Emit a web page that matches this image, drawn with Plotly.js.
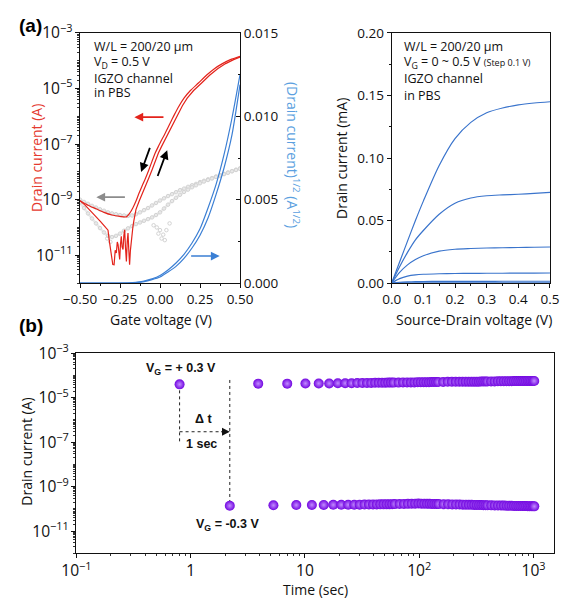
<!DOCTYPE html>
<html><head><meta charset="utf-8">
<script src="https://cdn.plot.ly/plotly-3.0.1.min.js"></script>
<style>html,body{margin:0;padding:0;background:#fff}#c{width:567px;height:611px}</style>
</head><body><div id="c"></div>
<script>
// ---------- (a) left: transfer curve ----------
const vgRev = [-0.50,-0.45,-0.40,-0.35,-0.30,-0.25,-0.21,-0.19,-0.17,-0.15,-0.13,-0.11,-0.09,-0.07,-0.05,-0.03,-0.01,0.01,0.03,0.05,0.07,0.09,0.12,0.15,0.19,0.24,0.29,0.34,0.39,0.44,0.50];
const idRev = [9.1e-10,6.3e-10,4.7e-10,3.5e-10,2.8e-10,2.5e-10,2.4e-10,3.2e-10,5.0e-10,8.9e-10,1.78e-9,3.3e-9,6.0e-9,1.17e-8,2.4e-8,4.8e-8,8.3e-8,1.41e-7,2.3e-7,4.0e-7,6.8e-7,1.15e-6,2.4e-6,4.5e-6,8.5e-6,1.58e-5,3.0e-5,5.2e-5,7.9e-5,1.1e-4,1.45e-4];
const vgFwd = [-0.50,-0.47,-0.43,-0.40,-0.37,-0.34,-0.325,-0.315,-0.305,-0.295,-0.287,-0.28,-0.273,-0.267,-0.262,-0.257,-0.252,-0.247,-0.242,-0.237,-0.231,-0.226,-0.221,-0.216,-0.21,-0.205,-0.2,-0.195,-0.19,-0.185,-0.179,-0.174,-0.169,-0.163,-0.158,-0.15,-0.13,-0.11,-0.09,-0.07,-0.05,-0.03,-0.01,0.01,0.03,0.05,0.07,0.09,0.11,0.14,0.17,0.21,0.26,0.31,0.36,0.41,0.46,0.50];
const idFwd = [9.1e-10,6.5e-10,3.7e-10,2.5e-10,1.6e-10,1.0e-10,8e-11,2.8e-11,9e-12,4.6e-12,4.5e-12,1.5e-11,1.2e-11,3e-11,2.4e-11,1.2e-11,7e-12,2.5e-11,4.8e-11,2e-11,1.6e-11,5e-11,8.3e-11,2e-11,6e-12,3e-11,6.3e-11,1.5e-11,4.6e-12,1.5e-11,3.6e-11,6e-11,1.1e-10,1.8e-10,2.5e-10,4.5e-10,8.9e-10,1.78e-9,3.3e-9,6.0e-9,1.17e-8,2.4e-8,4.8e-8,8.3e-8,1.41e-7,2.3e-7,4.0e-7,6.8e-7,1.15e-6,2.4e-6,4.5e-6,8.5e-6,1.58e-5,3.0e-5,5.2e-5,7.9e-5,1.1e-4,1.35e-4];
const vgLeak = [-0.500,-0.475,-0.450,-0.425,-0.400,-0.375,-0.350,-0.325,-0.300,-0.275,-0.250,-0.225,-0.200,-0.175,-0.150,-0.125,-0.100,-0.075,-0.050,-0.025,0.000,0.025,0.050,0.075,0.100,0.125,0.150,0.175,0.200,0.225,0.250,0.275,0.300,0.325,0.350,0.375,0.400,0.425,0.450,0.475,0.500];
const igLeakA = [1.0e-9,8.3e-10,7.1e-10,6.0e-10,5.2e-10,4.5e-10,4.0e-10,3.5e-10,3.2e-10,3.0e-10,2.8e-10,2.7e-10,2.6e-10,2.7e-10,3.0e-10,3.5e-10,4.2e-10,5.0e-10,6.2e-10,7.6e-10,9.3e-10,1.12e-9,1.35e-9,1.58e-9,1.86e-9,2.2e-9,2.5e-9,2.9e-9,3.3e-9,3.7e-9,4.3e-9,4.8e-9,5.4e-9,6.0e-9,6.8e-9,7.6e-9,8.5e-9,9.5e-9,1.07e-8,1.2e-8,1.35e-8];
const igLeakB = [7.9e-10,5.0e-10,3.2e-10,2.1e-10,1.4e-10,9.5e-11,6.6e-11,5.0e-11,4.5e-11,5.0e-11,6.0e-11,7.6e-11,9.3e-11,1.12e-10,1.32e-10,1.51e-10,1.74e-10,2.0e-10,2.3e-10,2.8e-10,3.5e-10,4.8e-10,6.6e-10,8.9e-10,1.17e-9,1.5e-9,1.9e-9,2.3e-9,2.8e-9,3.3e-9,3.9e-9,4.5e-9,5.1e-9,5.8e-9,6.6e-9,7.4e-9,8.3e-9,9.3e-9,1.05e-8,1.17e-8,1.29e-8];
const vgScat = [-0.33,-0.31,-0.04,-0.02,-0.01,0.00,0.01,0.02,0.03,0.04,0.06];
const igScat = [4e-11,3e-11,1.2e-10,1.0e-10,6e-11,8e-11,4e-11,5.5e-11,3.5e-11,8e-11,1.4e-10];
const vgSqrt = [-0.50,-0.30,-0.20,-0.15,-0.10,-0.05,0.00,0.05,0.10,0.15,0.20,0.25,0.30,0.35,0.40,0.45,0.50];
const sqrtRev = [0,0,0.00001,0.00004,0.00012,0.00025,0.00045,0.00078,0.0012,0.00172,0.0024,0.00325,0.0045,0.0059,0.0077,0.0099,0.0125];
const sqrtFwd = [0,0,0,0.00002,0.00008,0.0002,0.00036,0.00066,0.001,0.00148,0.0021,0.00287,0.0039,0.0053,0.0069,0.0089,0.0119];

// ---------- (a) right: output curves ----------
const vsd = [0,0.025,0.05,0.075,0.1,0.15,0.2,0.25,0.3,0.35,0.4,0.45,0.5];
const vgSteps = ['0.5 V','0.4 V','0.3 V','0.2 V','0.1 V','0.0 V'];
const idOut = [
  [0,0.0168,0.0335,0.050,0.0655,0.0940,0.1155,0.1285,0.1362,0.1400,0.1425,0.1440,0.1450],
  [0,0.0130,0.0245,0.0345,0.0420,0.0550,0.0638,0.0680,0.0698,0.0705,0.0710,0.0717,0.0725],
  [0,0.0085,0.0145,0.0188,0.0218,0.0255,0.0270,0.0276,0.0280,0.0282,0.0284,0.0286,0.0288],
  [0,0.0035,0.0055,0.0065,0.0070,0.0074,0.0076,0.0077,0.0078,0.0078,0.0079,0.0079,0.0080],
  [0,0.0006,0.0009,0.0011,0.0012,0.0013,0.0013,0.0013,0.0013,0.0014,0.0014,0.0014,0.0014],
  [0,0.0001,0.00015,0.0002,0.0002,0.0002,0.0002,0.0002,0.0002,0.0002,0.0002,0.0002,0.0002]
];

// ---------- (b) switching ----------
const tOn = [0.8,3.9,7.0,10.1,13.2,16.3,19.4,22.5,25.6,28.7,31.8,34.9,38.0,41.1,44.2,47.3,50.4,53.5,56.6,59.7,
  65.9,72.1,78.3,84.5,90.7,96.9,103.1,109.3,115.5,121.7,127.9,134.1,140.3,146.5,
  162.0,177.5,193.0,208.5,224.0,239.5,255.0,270.5,286.0,301.5,317.0,332.5,348.0,363.5,379.0,394.5,
  425.5,456.5,487.5,518.5,549.5,580.5,611.5,642.5,673.5,704.5,735.5,766.5,797.5,828.5,859.5,890.5,921.5,952.5,983.5,1014.5];
const iOn = [4.0e-5,4.3e-5,4.3e-5,4.4e-5,4.4e-5,4.4e-5,4.5e-5,4.5e-5,4.5e-5,4.6e-5,4.6e-5,4.6e-5,4.6e-5,4.7e-5,4.7e-5,4.7e-5,4.7e-5,4.8e-5,4.8e-5,4.8e-5,
  4.8e-5,4.9e-5,4.9e-5,4.9e-5,4.9e-5,5.0e-5,5.0e-5,5.0e-5,5.0e-5,5.0e-5,5.1e-5,5.1e-5,5.1e-5,5.1e-5,
  5.1e-5,5.2e-5,5.2e-5,5.2e-5,5.2e-5,5.2e-5,5.3e-5,5.3e-5,5.3e-5,5.3e-5,5.3e-5,5.3e-5,5.4e-5,5.4e-5,5.4e-5,5.4e-5,
  5.4e-5,5.4e-5,5.5e-5,5.5e-5,5.5e-5,5.5e-5,5.5e-5,5.5e-5,5.6e-5,5.6e-5,5.6e-5,5.6e-5,5.6e-5,5.6e-5,5.6e-5,5.7e-5,5.7e-5,5.7e-5,5.7e-5,5.7e-5];
const tOff = [2.2,5.3,8.4,11.5,14.6,17.7,20.8,23.9,27.0,30.1,33.2,36.3,39.4,42.5,45.6,48.7,51.8,54.9,58.0,61.1,
  67.3,73.5,79.7,85.9,92.1,98.3,104.5,110.7,116.9,123.1,129.3,135.5,141.7,147.9,
  163.4,178.9,194.4,209.9,225.4,240.9,256.4,271.9,287.4,302.9,318.4,333.9,349.4,364.9,380.4,395.9,
  426.9,457.9,488.9,519.9,550.9,581.9,612.9,643.9,674.9,705.9,736.9,767.9,798.9,829.9,860.9,891.9,922.9,953.9,984.9,1015.9];
const iOff = [1.38e-10,1.45e-10,1.48e-10,1.5e-10,1.5e-10,1.52e-10,1.52e-10,1.53e-10,1.54e-10,1.55e-10,1.56e-10,1.57e-10,1.58e-10,1.59e-10,1.6e-10,1.6e-10,1.61e-10,1.62e-10,1.63e-10,1.64e-10,
  1.65e-10,1.66e-10,1.68e-10,1.7e-10,1.72e-10,1.73e-10,1.72e-10,1.7e-10,1.69e-10,1.68e-10,1.67e-10,1.66e-10,1.65e-10,1.64e-10,
  1.62e-10,1.6e-10,1.58e-10,1.57e-10,1.56e-10,1.55e-10,1.54e-10,1.53e-10,1.52e-10,1.51e-10,1.5e-10,1.49e-10,1.48e-10,1.47e-10,1.46e-10,1.45e-10,
  1.44e-10,1.43e-10,1.42e-10,1.41e-10,1.4e-10,1.39e-10,1.38e-10,1.37e-10,1.36e-10,1.35e-10,1.35e-10,1.34e-10,1.34e-10,1.33e-10,1.33e-10,1.32e-10,1.32e-10,1.31e-10,1.31e-10,1.3e-10];

const RED = '#e3231b', BLUE = '#3b7fd4', LBLUE = '#5b9fe0', GRAY = '#d3d3d3', PURPLE = '#7206e0';
const F = 'Open Sans, Noto Sans, sans-serif';
const FB = 'Liberation Sans, Arial, sans-serif';

const traces = [];
const leakStyle = {mode:'lines+markers', line:{color:'#e9e9e9', width:2.5, shape:'spline'}, marker:{symbol:'circle-open', size:3.5, color:GRAY, line:{width:1}}};
traces.push(Object.assign({x: vgLeak, y: igLeakA, xaxis:'x', yaxis:'y'}, leakStyle));
traces.push(Object.assign({x: vgLeak, y: igLeakB, xaxis:'x', yaxis:'y'}, leakStyle));
traces.push({x: vgScat, y: igScat, xaxis:'x', yaxis:'y', mode:'markers', marker:{symbol:'circle-open', size:3.5, color:GRAY, line:{width:1}}});
traces.push({x: vgRev, y: idRev, xaxis:'x', yaxis:'y', mode:'lines', line:{color:RED, width:1.2, shape:'spline', smoothing:0.6}});
traces.push({x: vgFwd, y: idFwd, xaxis:'x', yaxis:'y', mode:'lines', line:{color:RED, width:1.2}});
traces.push({x: vgSqrt, y: sqrtRev, xaxis:'x', yaxis:'y2', mode:'lines', line:{color:BLUE, width:1.2, shape:'spline', smoothing:0.6}});
traces.push({x: vgSqrt, y: sqrtFwd, xaxis:'x', yaxis:'y2', mode:'lines', line:{color:BLUE, width:1.2, shape:'spline', smoothing:0.6}});
idOut.forEach((arr, i) => traces.push({x: vsd, y: arr, name: vgSteps[i], xaxis:'x3', yaxis:'y3', mode:'lines', line:{color:'#3a74cc', width:1.2, shape:'spline', smoothing:0.8}}));
// guide lines in (b), anchored on the data
traces.push({x:[tOn[0], tOn[0]], y:[iOn[0], 1.05e-7], xaxis:'x4', yaxis:'y4', mode:'lines', line:{color:'#222', width:1, dash:'dot'}});
traces.push({x:[tOff[0], tOff[0]], y:[6.3e-5, iOff[0]], xaxis:'x4', yaxis:'y4', mode:'lines', line:{color:'#222', width:1, dash:'dot'}});
traces.push({x:[tOn[0], 2.0], y:[2.95e-7, 2.95e-7], xaxis:'x4', yaxis:'y4', mode:'lines', line:{color:'#222', width:1, dash:'dot'}});
const mk = {size:10, color:PURPLE, gradient:{type:'radial', color:'#c28cff'}, line:{width:0}};
traces.push({x: tOn, y: iOn, xaxis:'x4', yaxis:'y4', mode:'markers', marker:mk});
traces.push({x: tOff, y: iOff, xaxis:'x4', yaxis:'y4', mode:'markers', marker:mk});

const tickF = {family:F, size:13.5, color:'#111'};
const logTickF = {family:F, size:12.5, color:'#111'};
const baseAx = {showgrid:false, zeroline:false, showline:true, linecolor:'#111', linewidth:1, ticks:'outside', ticklen:4, tickcolor:'#111', tickfont:tickF};
const logMinor = {ticks:'outside', ticklen:2, dtick:'D1', tickcolor:'#333'};

const yTop = [0.5368, 0.9460];
const ann = [];
function txt(x, y, text, o) { ann.push(Object.assign({xref:'paper', yref:'paper', x:x, y:y, xanchor:'center', yanchor:'middle', text:text, showarrow:false, font:{family:F, size:13, color:'#111'}}, o||{})); }
function arrow(x, y, ax, ay, color, w, s) { ann.push({xref:'x', yref:'y', axref:'x', ayref:'y', x:x, y:y, ax:ax, ay:ay, text:'', showarrow:true, arrowhead:2, arrowsize:s||1.1, arrowwidth:w, arrowcolor:color}); }

txt(0.053, 0.959, '(a)', {font:{family:FB, size:19, color:'#000', weight:'bold'}});
txt(0.054, 0.468, '(b)', {font:{family:FB, size:19, color:'#000', weight:'bold'}});
// inset text left
const insF = {family:F, size:12.5, color:'#111'};
txt(0.1617, 0.9236, 'W/L = 200/20 μm', {xanchor:'left', font:insF});
txt(0.1617, 0.8985, 'V<sub>D</sub> = 0.5 V', {xanchor:'left', font:insF});
txt(0.1617, 0.8723, 'IGZO channel', {xanchor:'left', font:insF});
txt(0.1617, 0.8478, 'in PBS', {xanchor:'left', font:insF});
// inset text right
txt(0.7085, 0.9236, 'W/L = 200/20 μm', {xanchor:'left', font:insF});
txt(0.7085, 0.8985, 'V<sub>G</sub> = 0 ~ 0.5 V <span style="font-size:9px">(Step 0.1 V)</span>', {xanchor:'left', font:insF});
txt(0.7085, 0.8723, 'IGZO channel', {xanchor:'left', font:insF});
txt(0.7085, 0.8445, 'in PBS', {xanchor:'left', font:insF});
// axis titles
txt(0.0635, 0.7414, 'Drain current (A)', {textangle:-90, font:{family:F, size:14, color:'#e53a2f'}});
txt(0.5168, 0.7463, '(Drain current)<sup>1/2</sup> (A<sup>1/2</sup>)', {textangle:90, font:{family:F, size:14, color:LBLUE}});
txt(0.2848, 0.4779, 'Gate voltage (V)', {font:{family:F, size:14, color:'#111'}});
txt(0.6032, 0.7398, 'Drain current (mA)', {textangle:-90, font:{family:F, size:14, color:'#111'}});
txt(0.836, 0.4779, 'Source-Drain voltage (V)', {font:{family:F, size:14, color:'#111'}});
txt(0.0476, 0.2607, 'Drain current (A)', {textangle:-90, font:{family:F, size:14, color:'#111'}});
txt(0.5564, 0.0344, 'Time (sec)', {font:{family:F, size:14, color:'#111'}});
// arrows (a)
arrow(-0.16, -6.03, 0.031, -6.03, RED, 1.6);
arrow(-0.398, -8.91, -0.21, -8.91, '#8c8c8c', 1.6);
arrow(0.373, -11.03, 0.185, -11.03, BLUE, 1.6);
arrow(-0.118, -8.0, -0.06, -7.08, '#000', 1.8, 1.0);
arrow(0.045, -7.22, -0.018, -8.2, '#000', 1.8, 1.0);
// (b) texts
function btxt(x, y, text) { ann.push({xref:'x4', yref:'y4', x:x, y:y, xanchor:'center', yanchor:'middle', text:text, showarrow:false, font:{family:FB, size:12.5, color:'#111', weight:'bold'}}); }
btxt(-0.085, -3.71, 'V<sub>G</sub> = + 0.3 V');
btxt(0.110, -5.97, 'Δ t');
btxt(0.096, -7.09, '1 sec');
btxt(0.322, -10.73, 'V<sub>G</sub> = -0.3 V');
ann.push({xref:'x4', yref:'y4', x:Math.log10(tOff[0]), y:Math.log10(2.95e-7), ax:-10, ay:0, text:'', showarrow:true, arrowhead:2, arrowsize:1.3, arrowwidth:1.2, arrowcolor:'#111'});

const layout = {
  width:567, height:611, margin:{l:0, r:0, t:0, b:0}, showlegend:false,
  paper_bgcolor:'#fff', plot_bgcolor:'rgba(0,0,0,0)',
  xaxis: Object.assign({}, baseAx, {domain:[0.1411, 0.4233], anchor:'y', range:[-0.5, 0.5], dtick:0.25, tickformat:'.2f', mirror:true, minor:{ticks:'outside', ticklen:2, dtick:0.125}}),
  yaxis: Object.assign({}, baseAx, {domain:yTop, anchor:'x', type:'log', range:[-12, -3], dtick:2, tick0:-3, exponentformat:'power', showexponent:'all', tickfont:logTickF, minor:logMinor}),
  yaxis2: Object.assign({}, baseAx, {overlaying:'y', side:'right', anchor:'x', range:[0, 0.015], dtick:0.005, tickformat:'.3f', ticks:'inside', minor:{ticks:'inside', ticklen:2, dtick:0.0025}}),
  xaxis3: Object.assign({}, baseAx, {domain:[0.6908, 0.9700], anchor:'y3', range:[0, 0.5], dtick:0.1, tickformat:'.1f', mirror:true, minor:{ticks:'outside', ticklen:2, dtick:0.05}}),
  yaxis3: Object.assign({}, baseAx, {domain:yTop, anchor:'x3', range:[0, 0.2], dtick:0.05, tickformat:'.2f', mirror:true, minor:{ticks:'outside', ticklen:2, dtick:0.025}}),
  xaxis4: Object.assign({}, baseAx, {domain:[0.1347, 0.9762], anchor:'y4', type:'log', range:[-1, 3.175], dtick:1, exponentformat:'power', showexponent:'all', tickfont:logTickF, mirror:true, minor:logMinor}),
  yaxis4: Object.assign({}, baseAx, {domain:[0.0944, 0.4218], anchor:'x4', type:'log', range:[-12, -3], dtick:2, tick0:-3, exponentformat:'power', showexponent:'all', tickfont:logTickF, mirror:true, minor:logMinor}),
  annotations: ann
};
Plotly.newPlot('c', traces, layout, {staticPlot:true, displayModeBar:false});
</script></body></html>
